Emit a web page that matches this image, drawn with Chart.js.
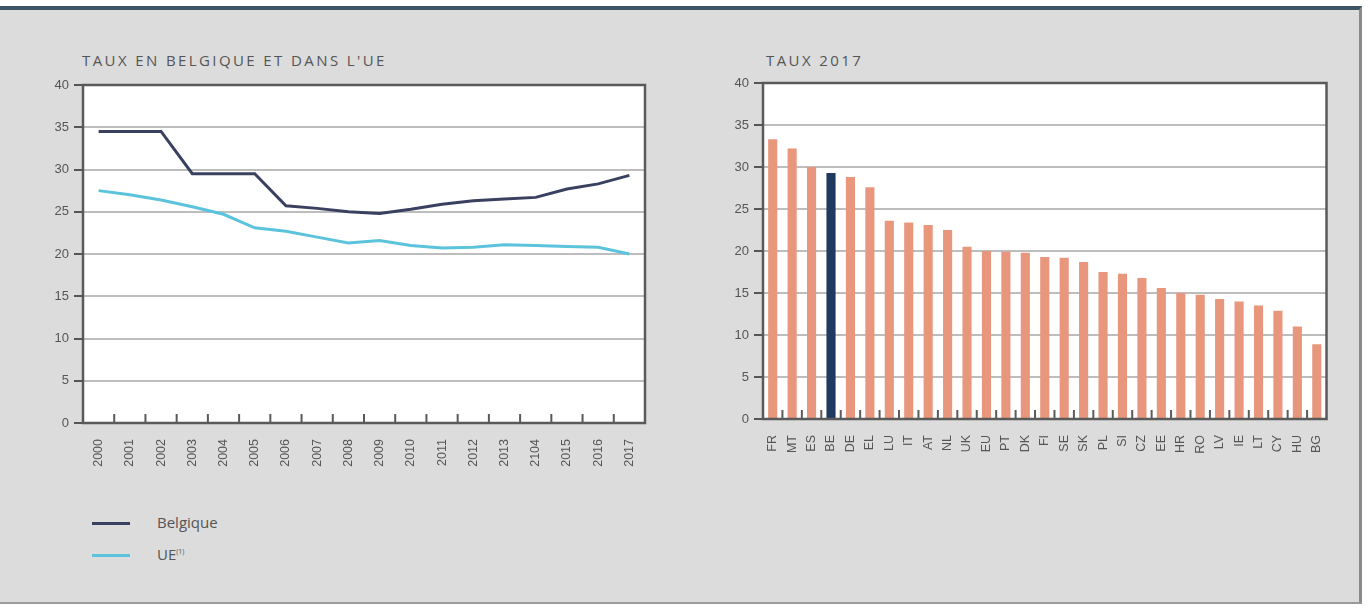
<!DOCTYPE html>
<html>
<head>
<meta charset="utf-8">
<script src="https://cdn.jsdelivr.net/npm/chart.js@4/dist/chart.umd.min.js"></script>
<style>
  body { margin: 0; width: 1370px; height: 608px; background: #fff; overflow: hidden; font-family: "Open Sans", "DejaVu Sans", sans-serif; }
  #frame { position: absolute; left: 0; top: 6px; width: 1362px; height: 598px; background: #dcdcdc;
           border-top: 4px solid #3e5566; border-right: 3px solid #8a8a8a; border-bottom: 2px solid #9a9a9a; box-sizing: border-box; }
  .title { position: absolute; font-size: 15px; color: #555; letter-spacing: 2.4px; }
  .box { position: absolute; }
  .legend { position: absolute; left: 92px; font-size: 15px; color: #555; }
  .legend span.sw { display: inline-block; width: 38px; height: 3px; vertical-align: middle; margin-right: 27px; }
  sup { font-size: 7px; }
</style>
</head>
<body>
<div id="frame"></div>
<div class="title" style="left:82px; top:50px;">TAUX EN BELGIQUE ET DANS L'UE</div>
<div class="title" style="left:766px; top:50px;">TAUX 2017</div>
<div class="box" style="left:30px; top:70px; width:625px; height:425px;"><canvas id="taux-ue"></canvas></div>
<div class="box" style="left:700px; top:70px; width:640px; height:425px;"><canvas id="taux-2017"></canvas></div>
<div class="legend" style="top:512px;"><span class="sw" style="background:#3a4160"></span>Belgique</div>
<div class="legend" style="top:544px;"><span class="sw" style="background:#5cc3dc"></span>UE<sup>(1)</sup></div>
<script>
// data
var annees = ["2000", "2001", "2002", "2003", "2004", "2005", "2006", "2007", "2008", "2009",
              "2010", "2011", "2012", "2013", "2104", "2015", "2016", "2017"];
var belgique = [34.5, 34.5, 34.5, 29.5, 29.5, 29.5, 25.7, 25.4, 25.0, 24.8, 25.3, 25.9, 26.3, 26.5, 26.7, 27.7, 28.3, 29.3];
var ue = [27.5, 27.0, 26.4, 25.6, 24.7, 23.1, 22.7, 22.0, 21.3, 21.6, 21.0, 20.7, 20.8, 21.1, 21.0, 20.9, 20.8, 20.0];

var pays = ["FR", "MT", "ES", "BE", "DE", "EL", "LU", "IT", "AT", "NL", "UK", "EU", "PT", "DK", "FI",
            "SE", "SK", "PL", "SI", "CZ", "EE", "HR", "RO", "LV", "IE", "LT", "CY", "HU", "BG"];
var taux2017 = [33.3, 32.2, 30.0, 29.3, 28.8, 27.6, 23.6, 23.4, 23.1, 22.5, 20.5, 20.0, 19.9, 19.8, 19.3,
                19.2, 18.7, 17.5, 17.3, 16.8, 15.6, 15.0, 14.8, 14.3, 14.0, 13.5, 12.9, 11.0, 8.9];
var yTicks = [0, 5, 10, 15, 20, 25, 30, 35, 40];

var gris = "#555";

// frame round the plot + small tick marks inside the bottom edge, between categories
var cadre = {
    id: "cadre",
    afterDraw: function (chart) {
        var ctx = chart.ctx, a = chart.chartArea, x = chart.scales.x;
        ctx.save();
        ctx.strokeStyle = "#5a5a5a";
        ctx.lineWidth = 2;
        var n = x.ticks.length;
        ctx.beginPath();
        for (var i = 0; i < n - 1; i++) {
            var px = (x.getPixelForTick(i) + x.getPixelForTick(i + 1)) / 2;
            ctx.moveTo(px, a.bottom);
            ctx.lineTo(px, a.bottom - 9);
        }
        ctx.stroke();
        ctx.lineWidth = 2.5;
        ctx.strokeRect(a.left, a.top, a.right - a.left, a.bottom - a.top);
        ctx.restore();
    }
};

var fondBlanc = {
    id: "fondBlanc",
    beforeDraw: function (chart) {
        var a = chart.chartArea;
        chart.ctx.save();
        chart.ctx.fillStyle = "#fff";
        chart.ctx.fillRect(a.left, a.top, a.right - a.left, a.bottom - a.top);
        chart.ctx.restore();
    }
};

function axeY(largeur) {
    return {
        min: 0, max: 40,
        afterBuildTicks: function (s) { s.ticks = yTicks.map(function (v) { return { value: v }; }); },
        afterFit: function (s) { s.width = largeur; },
        grid: { color: "#bdbdbd", lineWidth: 2, tickLength: 9, tickColor: gris, tickWidth: 2 },
        border: { display: false },
        ticks: { color: gris, font: { size: 13 }, padding: 5 }
    };
}

function axeX(hauteur) {
    return {
        offset: true,
        afterFit: function (s) { s.height = hauteur; },
        grid: { display: false },
        border: { display: false },
        ticks: { color: gris, font: { size: 12.5 }, minRotation: 90, maxRotation: 90, autoSkip: false, padding: 8 }
    };
}

new Chart(document.getElementById("taux-ue").getContext("2d"), {
    type: "line",
    data: {
        labels: annees,
        datasets: [
            { label: "Belgique", data: belgique, borderColor: "#3a4160", borderWidth: 3, pointRadius: 0, tension: 0 },
            { label: "UE", data: ue, borderColor: "#5cc3dc", borderWidth: 3, pointRadius: 0, tension: 0 }
        ]
    },
    options: {
        responsive: true,
        maintainAspectRatio: false,
        animation: false,
        layout: { padding: { top: 15, right: 10 } },
        plugins: { legend: { display: false }, tooltip: { enabled: false } },
        scales: { x: axeX(72), y: axeY(53) }
    },
    plugins: [fondBlanc, cadre]
});

var couleurs = pays.map(function (p) { return p === "BE" ? "#1f3a5e" : "#e9977c"; });

new Chart(document.getElementById("taux-2017").getContext("2d"), {
    type: "bar",
    data: {
        labels: pays,
        datasets: [{ label: "Taux 2017", data: taux2017, backgroundColor: couleurs, borderWidth: 0,
                     barPercentage: 0.47, categoryPercentage: 1.0 }]
    },
    options: {
        responsive: true,
        maintainAspectRatio: false,
        animation: false,
        layout: { padding: { top: 13, right: 12 } },
        plugins: { legend: { display: false }, tooltip: { enabled: false } },
        scales: { x: axeX(76), y: axeY(63) }
    },
    plugins: [fondBlanc, cadre]
});
</script>
</body>
</html>
